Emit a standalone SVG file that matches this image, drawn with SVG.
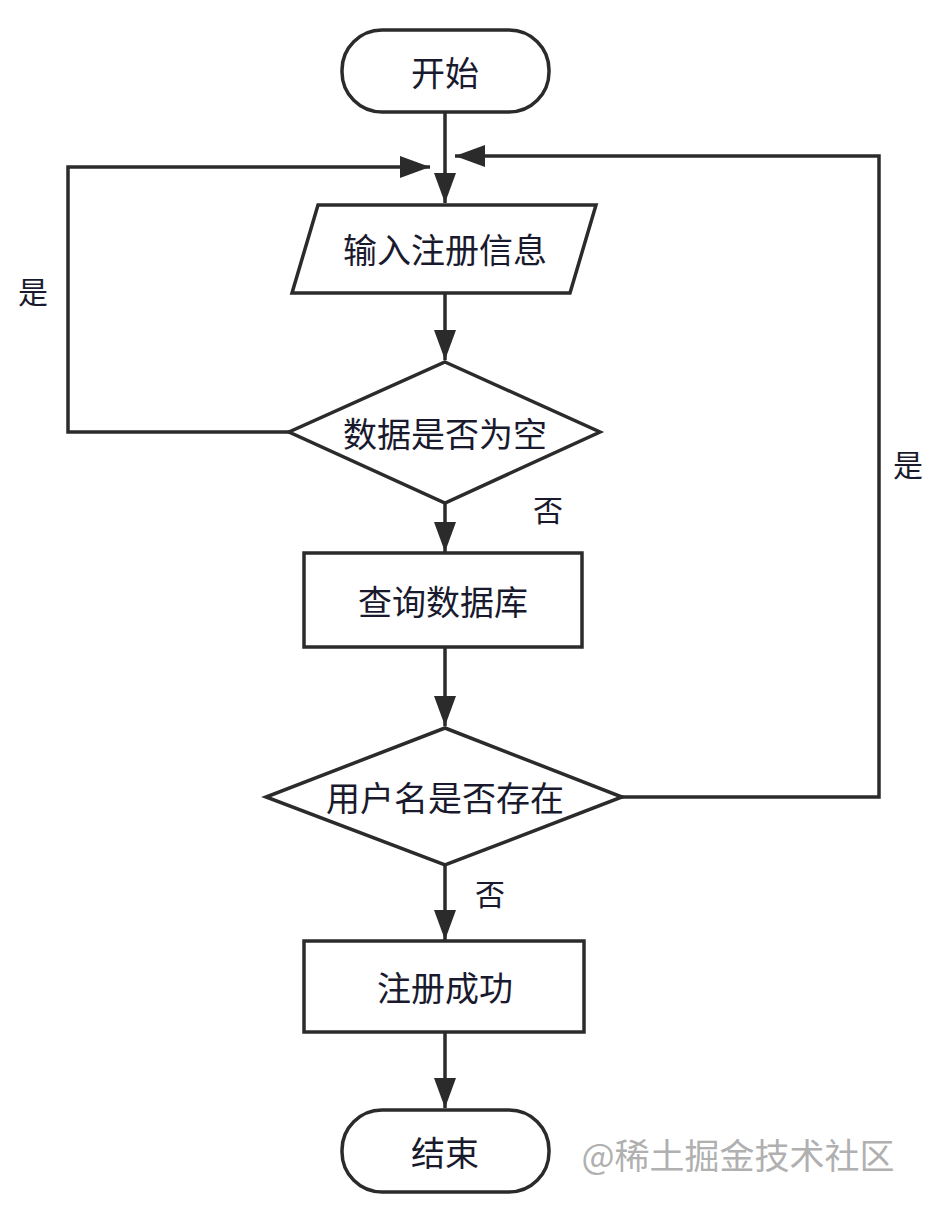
<svg xmlns="http://www.w3.org/2000/svg" width="936" height="1208" viewBox="0 0 936 1208">
<style>
.s{fill:#fff;stroke:#2b2b2b;stroke-width:3.5}
.c{fill:none;stroke:#2b2b2b;stroke-width:3.5}
text{font-family:"Noto Sans CJK SC",sans-serif;font-size:34px;fill:#1a1a2e;text-anchor:middle;dominant-baseline:central}
</style>
<defs><marker id="b" markerWidth="30" markerHeight="22" refX="30" refY="11" orient="auto" markerUnits="userSpaceOnUse" viewBox="0 0 30 22"><path d="M0,0L30,11L0,22z" fill="#2b2b2b"/></marker></defs>
<rect width="936" height="1208" fill="#fff"/>
<g id="connectors">
<path class="c" d="M445,112V203" marker-end="url(#b)"/>
<path class="c" d="M445,293V360" marker-end="url(#b)"/>
<path class="c" d="M289,432H68V167H430" marker-end="url(#b)"/>
<path class="c" d="M445,503V552" marker-end="url(#b)"/>
<path class="c" d="M445,647V726" marker-end="url(#b)"/>
<path class="c" d="M622,797H879V156H455" marker-end="url(#b)"/>
<path class="c" d="M445,865V940" marker-end="url(#b)"/>
<path class="c" d="M445,1032V1108" marker-end="url(#b)"/>
<text x="33" y="290" style="font-size:30px">是</text>
<text x="548" y="508" style="font-size:30px">否</text>
<text x="908" y="463" style="font-size:30px">是</text>
<text x="490" y="892" style="font-size:30px">否</text>
</g>
<g id="start"><rect class="s" x="342" y="30" width="207" height="82" rx="40"/><text x="445" y="71">开始</text></g>
<g id="input"><path class="s" d="M318,205H596L570,293H292Z"/><text x="445" y="248">输入注册信息</text></g>
<g id="empty"><path class="s" d="M445,362L600,432L445,503L289,432Z"/><text x="445" y="432">数据是否为空</text></g>
<g id="query"><rect class="s" x="304" y="553" width="278" height="94"/><text x="443" y="600">查询数据库</text></g>
<g id="exists"><path class="s" d="M445,728L622,797L445,865L266,797Z"/><text x="445" y="796">用户名是否存在</text></g>
<g id="success"><rect class="s" x="304" y="941" width="280" height="91"/><text x="445" y="986">注册成功</text></g>
<g id="end"><rect class="s" x="342" y="1110" width="207" height="82" rx="40"/><text x="445" y="1151">结束</text></g>
<text x="738" y="1153" style="fill:#b0b0b0;font-size:35px">@稀土掘金技术社区</text>
</svg>
